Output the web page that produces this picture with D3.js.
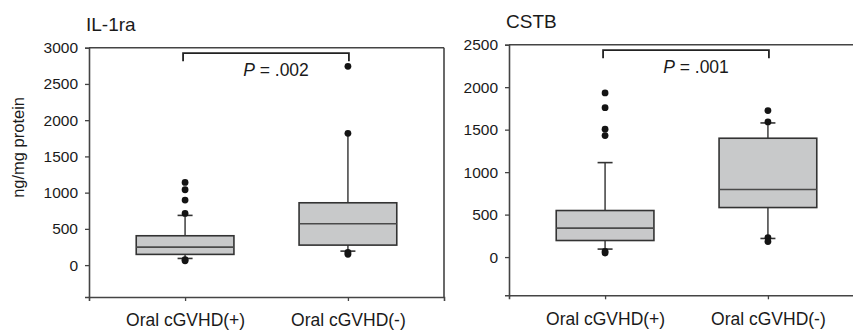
<!DOCTYPE html>
<html>
<head>
<meta charset="utf-8">
<script src="https://cdn.jsdelivr.net/npm/d3@7"></script>
<style>
  body { margin: 0; background: #fff; }
  svg { display: block; font-family: "Liberation Sans", Arial, sans-serif; }
</style>
</head>
<body>
<svg id="chart" width="853" height="332"></svg>
<script>
// ---- data ----
const categories = ["Oral cGVHD(+)", "Oral cGVHD(-)"];

// IL-1ra panel
const il1raQ1 = [148, 276];
const il1raMedian = [248, 570];
const il1raQ3 = [405, 860];
const il1raWhiskerLow = [92, 193];
const il1raWhiskerHigh = [686, 1818];
const il1raUpperCap = [true, false];
const il1raOutliers = [[1141, 1040, 897, 713, 75, 60], [2743, 1818, 175, 150]];
const il1raTicks = [0, 500, 1000, 1500, 2000, 2500, 3000];
const il1raDomain = [-440, 3000];
const il1raP = "= .002";

// CSTB panel
const cstbQ1 = [195, 583];
const cstbMedian = [341, 795];
const cstbQ3 = [548, 1399];
const cstbWhiskerLow = [94, 219];
const cstbWhiskerHigh = [1112, 1579];
const cstbUpperCap = [true, true];
const cstbOutliers = [[1932, 1759, 1505, 1430, 66, 47], [1724, 1591, 230, 183]];
const cstbTicks = [0, 500, 1000, 1500, 2000, 2500];
const cstbDomain = [-450, 2500];
const cstbP = "= .001";

const svg = d3.select("#chart");
const frameColor = "#444";
const textColor = "#1a1a1a";

function panel(opts) {
  const { left, right, top, bottom, title, yLabel, domain, ticks,
          q1, med, q3, wLo, wHi, upperCap, outliers, pText } = opts;
  const g = svg.append("g");
  const x = d3.scalePoint().domain(categories).range([left, right]).padding(0.59);
  const y = d3.scaleLinear().domain(domain).range([bottom, top]);
  const boxW = x.step() * 0.6;
  const capW = 15;

  // frame (top/right lines)
  g.append("line").attr("x1", left).attr("x2", right).attr("y1", top).attr("y2", top)
    .attr("stroke", frameColor).attr("stroke-width", 1.6);
  g.append("line").attr("x1", right).attr("x2", right).attr("y1", top).attr("y2", bottom)
    .attr("stroke", frameColor).attr("stroke-width", 1.6);

  // axes
  const yAxis = g.append("g").attr("transform", `translate(${left},0)`)
    .call(d3.axisLeft(y).tickValues(ticks).tickSize(4).tickPadding(7).tickFormat(d3.format("d")));
  const xAxis = g.append("g").attr("transform", `translate(0,${bottom})`)
    .call(d3.axisBottom(x).tickSize(4).tickPadding(13));
  [yAxis, xAxis].forEach(a => {
    a.select(".domain").attr("stroke", frameColor).attr("stroke-width", 1.6);
    a.selectAll(".tick line").attr("stroke", frameColor).attr("stroke-width", 1.3);
    a.selectAll("text").attr("fill", textColor).style("font-family", "'Liberation Sans', Arial, sans-serif");
  });
  yAxis.selectAll("text").attr("font-size", 15.5);
  xAxis.selectAll("text").attr("font-size", 17.5);

  // title
  g.append("text").attr("x", left - 3).attr("y", top - 17).text(title)
    .attr("font-size", 19).attr("fill", textColor);

  if (yLabel) {
    g.append("text").attr("transform", `translate(24,${(y(0) + y(3000)) / 2 - 9}) rotate(-90)`)
      .attr("text-anchor", "middle").attr("font-size", 16.5).attr("fill", textColor).text(yLabel);
  }

  // boxes
  categories.forEach((c, i) => {
    const cx = x(c);
    // whiskers
    g.append("line").attr("x1", cx).attr("x2", cx).attr("y1", y(q3[i])).attr("y2", y(wHi[i]))
      .attr("stroke", "#4a4a4a").attr("stroke-width", 1.6);
    g.append("line").attr("x1", cx).attr("x2", cx).attr("y1", y(q1[i])).attr("y2", y(wLo[i]))
      .attr("stroke", "#4a4a4a").attr("stroke-width", 1.6);
    if (upperCap[i]) {
      g.append("line").attr("x1", cx - capW / 2).attr("x2", cx + capW / 2)
        .attr("y1", y(wHi[i])).attr("y2", y(wHi[i])).attr("stroke", "#333").attr("stroke-width", 1.6);
    }
    g.append("line").attr("x1", cx - capW / 2).attr("x2", cx + capW / 2)
      .attr("y1", y(wLo[i])).attr("y2", y(wLo[i])).attr("stroke", "#333").attr("stroke-width", 1.6);
    // box
    g.append("rect").attr("x", cx - boxW / 2).attr("width", boxW)
      .attr("y", y(q3[i])).attr("height", y(q1[i]) - y(q3[i]))
      .attr("fill", "#c8c9ca").attr("stroke", "#333").attr("stroke-width", 1.6);
    g.append("line").attr("x1", cx - boxW / 2).attr("x2", cx + boxW / 2)
      .attr("y1", y(med[i])).attr("y2", y(med[i])).attr("stroke", "#4a4a4a").attr("stroke-width", 1.6);
    // outliers
    g.selectAll(null).data(outliers[i]).enter().append("circle")
      .attr("cx", cx).attr("cy", d => y(d)).attr("r", 3.4).attr("fill", "#141414");
  });

  // significance bracket
  const bx1 = x(categories[0]) - 2, bx2 = x(categories[1]) + 1;
  const by = top + 5.5;
  g.append("path")
    .attr("d", `M${bx1},${by + 8}V${by}H${bx2}V${by + 8}`)
    .attr("fill", "none").attr("stroke", "#222").attr("stroke-width", 1.8);
  const t = g.append("text").attr("x", (bx1 + bx2) / 2 + 10).attr("y", top + 28)
    .attr("text-anchor", "middle").attr("font-size", 17.5).attr("fill", textColor);
  t.append("tspan").attr("font-style", "italic").text("P");
  t.append("tspan").text(" " + pText);
}

panel({
  left: 89, right: 444, top: 47.7, bottom: 297,
  title: "IL-1ra", yLabel: "ng/mg protein", domain: il1raDomain, ticks: il1raTicks,
  q1: il1raQ1, med: il1raMedian, q3: il1raQ3, wLo: il1raWhiskerLow, wHi: il1raWhiskerHigh,
  upperCap: il1raUpperCap, outliers: il1raOutliers, pText: il1raP
});
panel({
  left: 509, right: 864, top: 44.7, bottom: 295.3,
  title: "CSTB", yLabel: null, domain: cstbDomain, ticks: cstbTicks,
  q1: cstbQ1, med: cstbMedian, q3: cstbQ3, wLo: cstbWhiskerLow, wHi: cstbWhiskerHigh,
  upperCap: cstbUpperCap, outliers: cstbOutliers, pText: cstbP
});
</script>
</body>
</html>
